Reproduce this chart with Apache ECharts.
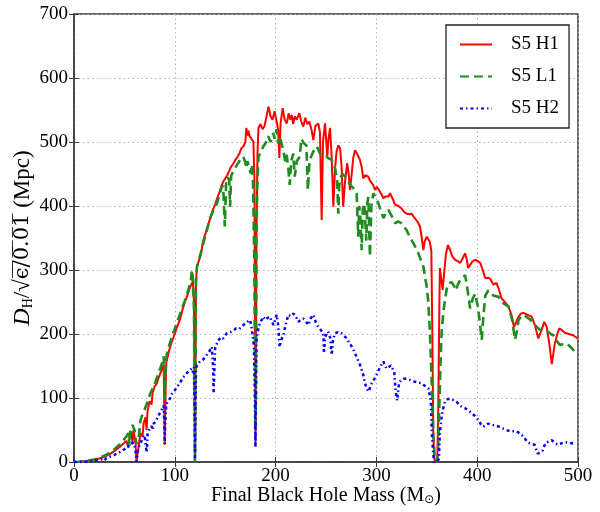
<!DOCTYPE html>
<html>
<head>
<meta charset="utf-8">
<script src="https://cdn.jsdelivr.net/npm/echarts@6/dist/echarts.min.js"></script>
<style>html,body{margin:0;padding:0;background:#fff}#c{width:600px;height:512px}</style>
</head>
<body>
<div id="c"></div>
<script>
const seriesNames = ['S5 H1', 'S5 L1', 'S5 H2'];
const xTicks = [0, 100, 200, 300, 400, 500];
const yTicks = [0, 100, 200, 300, 400, 500, 600, 700];

// [final black hole mass (Msun), distance (Mpc)]
const h1 = [[0,0],[5,0.3],[10,1],[15,2],[20,3.5],[25,5.5],[30,8],[35,12],[40,17],[45,23],[50,30],[52,33],[53,35],[54,22],[55,40],[57,46],[58,30],[59,50],[60,47],[61,30],[62,0],[62.5,0],[63,12],[65,35],[66,45],[68,40],[69,60],[71,70],[72,50],[73,80],[75,95],[77,90],[78,108],[80,118],[82,122],[84,132],[86,140],[88,148],[89,152],[89.7,60],[90,27],[90.5,80],[91.5,155],[93,165],[95,178],[97,188],[100,200],[102,210],[105,222],[108,240],[110,250],[112,258],[114,268],[116,276],[118,282],[119,250],[119.8,50],[120,0],[120.3,40],[121,280],[122,305],[124,315],[126,325],[128,345],[130,355],[132,365],[134,375],[136,385],[138,395],[140,402],[142,412],[144,420],[146,430],[148,438],[150,443],[152,448],[154,455],[156,462],[158,466],[160,472],[162,476],[164,482],[166,490],[168,493],[170,500],[171,522],[172,510],[173,518],[174,510],[176,505],[178,500],[179,440],[179.7,150],[180,30],[180.5,150],[181,350],[182,480],[183,522],[185,528],[187,520],[189,525],[191,540],[193,555],[195,540],[197,535],[199,548],[201,532],[202.5,520],[203.7,475],[205,530],[207,553],[209,535],[211,529],[213,545],[214.5,535],[216,542],[217.5,528],[219,540],[221,535],[223.5,545],[225.5,532],[227.5,524],[229.5,538],[231.5,528],[233.4,532],[235.5,520],[237.4,503],[239.5,525],[242.4,529],[244,515],[245.7,378],[247,500],[249,529],[251.3,477],[252.5,505],[254,522],[255.5,480],[257.3,399],[259,460],[260.5,485],[262.2,495],[264,490],[265.5,460],[267,399],[269,440],[271,467],[272.5,450],[273.8,425],[275.5,450],[277,475],[278.8,487],[280.5,485],[282,478],[283.7,472],[285.5,460],[287,443],[289,448],[292,446],[293.5,440],[295.3,438],[297,432],[298.6,425],[300.5,430],[302,430],[304.5,420],[306.9,412],[309,415],[312,415],[313.5,420],[315,420],[316.5,410],[318.5,402],[322,400],[325,396],[328,390],[330,388],[333,387],[335,388],[336.5,384],[338.3,381],[341,375],[343.3,368],[345,350],[346.6,331],[348,345],[350,352],[351.5,350],[353,344],[354.5,330],[355.5,200],[356.5,40],[357.5,5],[359,0],[360.5,5],[361.5,100],[362.5,250],[363,303],[364,290],[365.7,269],[367.5,300],[369,325],[371,339],[373,332],[375,322],[378,316],[380.5,314],[383,311],[385.5,318],[388,326],[389.5,318],[391,303],[393,308],[395,313],[398,316],[400.5,314],[403,311],[405.5,300],[408,287],[410.5,288],[413,286],[416,277],[419,280],[421.5,270],[424,256],[427.5,250],[431,243],[434,230],[436.5,211],[438.5,218],[441,227],[443.5,232],[446,233],[450,230],[454,227],[457,215],[460.6,193],[463.5,205],[466.6,219],[469,211],[471.5,185],[474,153],[477,185],[479.5,200],[481.5,209],[484,206],[487,202],[491,200],[495,198],[500,193]];

const l1 = [[0,0],[5,0.3],[10,1.2],[15,2.5],[20,4],[25,6.5],[30,10],[35,14],[40,20],[45,27],[50,36],[52,40],[54,45],[55,25],[55.5,45],[57,52],[58,58],[59,57],[60,50],[61,38],[62,28],[63,25],[64,35],[65,50],[66,65],[68,75],[70,82],[72,90],[74,100],[76,108],[78,115],[80,122],[82,130],[84,140],[86,148],[88,158],[89,165],[89.7,130],[90.2,97],[90.7,140],[92,168],[94,180],[96,190],[98,200],[100,208],[102,218],[104,226],[106,235],[108,244],[110,252],[112,262],[114,272],[116,285],[117,300],[118,285],[119,240],[119.8,50],[120,0],[120.3,50],[121,280],[122,305],[124,316],[126,328],[128,340],[130,352],[132,363],[134,376],[136,385],[138,392],[140,398],[142,405],[143,403],[144,415],[146,428],[148,432],[149.6,368],[151,440],[152.5,445],[154,440],[154.8,399],[156,448],[158,454],[160,460],[162,465],[164,470],[166,475],[168,477],[170,468],[171,459],[172,470],[173.3,472],[175.3,451],[176.5,465],[177.6,436],[179,300],[179.7,100],[180,50],[180.5,100],[181,350],[181.8,430],[183,477],[185,483],[187.8,493],[190,498],[192.7,509],[195,500],[197.7,514],[199,505],[201,520],[202.5,498],[204,509],[205.5,500],[207.5,488],[209.5,470],[211,480],[212.6,459],[214,433],[215.5,470],[217.5,482],[219,446],[221,470],[224,477],[225.5,505],[228,498],[230.5,495],[232,425],[233.7,472],[236,480],[239,490],[241,493],[244,482],[247,478],[250.6,477],[253,474],[255.6,472],[257.5,465],[259,459],[261,440],[262.2,388],[263,430],[264,444],[266.5,450],[269,446],[271.5,440],[274,433],[277,428],[280.4,420],[282,352],[283,400],[284,383],[285.4,331],[286.5,395],[288,404],[290,346],[291,405],[292,414],[293.6,321],[295,400],[297,420],[299.5,412],[302,404],[304.5,392],[307,381],[309.5,390],[312,394],[315,385],[318.5,373],[321.5,376],[325,373],[327.5,368],[330,362],[333,352],[336.6,342],[339,335],[341.6,326],[344,316],[346.6,305],[349.9,274],[351.5,250],[353,206],[355,120],[356.5,40],[358,5],[360,0],[361,10],[362,60],[363.5,150],[364.8,206],[366.5,235],[368,253],[369.7,270],[371.4,279],[374.6,281],[377,275],[379,268],[381,278],[383,284],[385.5,288],[388,292],[390,274],[393,240],[395.5,255],[398,263],[401,240],[404.5,191],[406,225],[408,260],[411,268],[413.5,265],[416,260],[421,258],[426,248],[431,243],[434.7,222],[437.5,191],[439.5,205],[441,222],[443.5,227],[446,230],[449.5,226],[453,222],[456,216],[459,211],[462,207],[465.6,203],[470.6,203],[473,200],[475.5,198],[478.5,190],[482,183],[485.5,184],[489,185],[493,179],[497,172],[500,167]];

const h2 = [[0,0],[10,0.5],[15,1],[20,2],[25,3.5],[28,4],[30,2],[32,6],[35,8],[40,11],[45,15],[50,20],[53,24],[55,26],[57,29],[59,30],[60,28],[61,20],[62,0],[62.5,0],[63,15],[64,22],[65,26],[66,30],[68,36],[70,42],[71,40],[72,15],[72.5,25],[73,45],[75,52],[77,56],[78,50],[79,60],[81,63],[83,70],[85,76],[87,82],[89,88],[89.7,50],[90,28],[90.5,60],[91.5,90],[93,94],[95.2,99],[97,106],[100,112],[102,117],[105,123],[108,132],[110,135],[112,139],[115,144],[117,146],[118,140],[119,148],[119.8,60],[120,5],[120.3,60],[121,145],[122,152],[125,157],[128,160],[131.6,167],[134,172],[136.6,180],[138,150],[138.5,108],[139.2,140],[140,178],[143,190],[146,195],[148,193],[151.5,201],[155,203],[158,205],[161,209],[164,208],[168,214],[171,218],[174.6,222],[176,212],[177,201],[178.5,180],[179.5,100],[180,24],[180.5,100],[181,190],[183,211],[185.5,220],[187.8,227],[190,222],[192,225],[194.4,227],[196,220],[198,214],[199.5,222],[201,230],[202.5,215],[204,180],[205.5,190],[207.7,198],[210,215],[212.6,230],[215,228],[217.5,232],[220,228],[222.5,219],[225,222],[227.5,224],[230,220],[232.5,214],[235,225],[237.4,230],[240,218],[242.4,211],[245,206],[247.4,201],[248,170],[249,195],[252,204],[254,195],[255.6,167],[257,190],[258.9,201],[262,203],[265.6,201],[270,194],[273.8,185],[277,176],[280.4,164],[283.7,152],[287,136],[288.7,123],[290.5,115],[292,110],[293.5,115],[295.3,123],[298,130],[300,136],[303.6,148],[306.9,157],[310,146],[312,148],[314.4,151],[317.7,141],[319,112],[320.6,96],[321.5,110],[322.6,125],[325,128],[327,130],[330,130],[333.6,128],[336.5,126],[339.5,125],[342,124],[345,123],[348,119],[351.5,115],[354,96],[355,44],[356.5,10],[357.5,0],[360,0],[362,5],[363,45],[364.3,65],[365.7,81],[368,94],[370.5,98],[373,99],[376,97],[379.6,94],[382,90],[384.6,86],[388,84],[391,81],[394,77],[397.8,72],[401,66],[404,58],[406,55],[408.5,58],[411,60],[414,58],[418,57],[422,55],[426,52],[429,50],[432.5,48],[436,48],[439,48],[442,45],[445.7,40],[448,35],[450.7,30],[454,28],[457,27],[458.5,20],[460,13],[462.5,15],[465,18],[466.5,25],[468,30],[471,32],[474,34],[477,30],[480,27],[483.5,29],[487,31],[491,30],[495.4,29]];

const serif = 'Liberation Serif';
const frame = '#3a3a3a';
const gridLine = { show: true, lineStyle: { color: '#b0b0b0', width: 1, type: [1.5, 3] } };

const chart = echarts.init(document.getElementById('c'), null, { renderer: 'canvas' });
chart.setOption({
  animation: false,
  backgroundColor: '#fff',
  grid: { left: 74, right: 22, top: 14, bottom: 50, show: true, borderColor: frame, borderWidth: 1.5, backgroundColor: 'transparent', containLabel: false, outerBoundsMode: 'none' },
  legend: {
    data: seriesNames,
    orient: 'vertical',
    left: 446, top: 25,
    itemWidth: 32, itemHeight: 14, itemGap: 13,
    padding: [10, 10, 10, 13],
    borderColor: '#222', borderWidth: 1.3,
    backgroundColor: '#fff',
    itemStyle: { opacity: 0 },
    textStyle: { fontFamily: serif, fontSize: 19, color: '#000', padding: [0, 0, 0, 14] }
  },
  xAxis: [{
    type: 'value', min: xTicks[0], max: xTicks[xTicks.length - 1], interval: 100,
    axisLine: { show: true, lineStyle: { color: frame, width: 1.5 } },
    axisTick: { show: true, inside: true, length: 5, lineStyle: { color: frame } },
    axisLabel: { fontFamily: serif, fontSize: 19, color: '#000', margin: 5 },
    splitLine: gridLine,
    name: 'Final Black Hole Mass (M{sub|⊙})',
    nameLocation: 'middle', nameGap: 24, nameMoveOverlap: false,
    nameTextStyle: { fontFamily: serif, fontSize: 20, color: '#000', rich: { sub: { fontFamily: 'DejaVu Sans', fontSize: 12, verticalAlign: 'bottom', padding: [8, 0, 0, 0] } } }
  }, {
    type: 'value', position: 'top', min: 0, max: 500, interval: 100,
    axisLine: { show: false }, axisLabel: { show: false }, splitLine: { show: false },
    axisTick: { show: true, inside: true, length: 5, lineStyle: { color: frame } }
  }],
  yAxis: [{
    type: 'value', min: yTicks[0], max: yTicks[yTicks.length - 1], interval: 100,
    axisLine: { show: true, lineStyle: { color: frame, width: 1.5 } },
    axisTick: { show: true, inside: true, length: 5, lineStyle: { color: frame } },
    axisLabel: { fontFamily: serif, fontSize: 19, color: '#000', margin: 6 },
    splitLine: gridLine,
    name: '{i|D}{s|H}{n|/√}{o|ϵ̅/̅0̅.̅0̅1̅}{n| (Mpc)}',
    nameLocation: 'middle', nameGap: 39, nameRotate: 90, nameMoveOverlap: false,
    nameTextStyle: { fontFamily: serif, fontSize: 23, color: '#000', rich: {
      i: { fontFamily: serif, fontStyle: 'italic', fontSize: 24 },
      s: { fontFamily: serif, fontSize: 14, verticalAlign: 'bottom', padding: [11, 0, 0, 0] },
      n: { fontFamily: serif, fontSize: 23 },
      o: { fontFamily: 'DejaVu Serif', fontSize: 21 }
    } }
  }, {
    type: 'value', position: 'right', min: 0, max: 700, interval: 100,
    axisLine: { show: false }, axisLabel: { show: false }, splitLine: { show: false },
    axisTick: { show: true, inside: true, length: 5, lineStyle: { color: frame } }
  }],
  series: [
    { name: seriesNames[0], type: 'line', data: h1, symbol: 'none', smooth: false,
      lineStyle: { color: '#ff0000', width: 2 }, itemStyle: { color: '#ff0000' } },
    { name: seriesNames[1], type: 'line', data: l1, symbol: 'none',
      lineStyle: { color: '#1e8c1e', width: 2.6, type: [9, 5] }, itemStyle: { color: '#1e8c1e' } },
    { name: seriesNames[2], type: 'line', data: h2, symbol: 'none',
      lineStyle: { color: '#0000ff', width: 2.5, type: [3, 3, 1.5, 3] }, itemStyle: { color: '#0000ff' } }
  ]
});
</script>
</body>
</html>
